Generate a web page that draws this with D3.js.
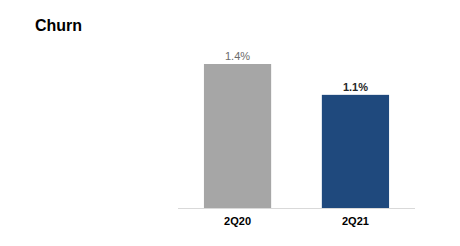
<!DOCTYPE html>
<html>
<head>
<meta charset="utf-8">
<script src="https://cdn.jsdelivr.net/npm/d3@7"></script>
<style>
  body { margin: 0; background: #fff; }
  svg { display: block; font-family: "Liberation Sans", Arial, sans-serif; }
</style>
</head>
<body>
<svg id="chart" width="460" height="246"></svg>
<script>
const periods = ["2Q20", "2Q21"];
const churn = [1.4, 1.1];
const barColors = ["#a6a6a6", "#1f497d"];
const labelColors = ["#6b6b6b", "#262626"];
const labelWeights = ["normal", "bold"];

const svg = d3.select("#chart");

svg.append("text")
  .attr("x", 35)
  .attr("y", 31)
  .style("font-size", "16px")
  .style("font-weight", "bold")
  .attr("fill", "#000")
  .text("Churn");

const x = d3.scaleBand()
  .domain(periods)
  .range([178, 415])
  .paddingInner(0.43)
  .paddingOuter(0.22);

const y = d3.scaleLinear()
  .domain([0, 1.4])
  .range([208, 64]);

// baseline
svg.append("line")
  .attr("x1", 178).attr("x2", 415)
  .attr("y1", y(0) + 0.5).attr("y2", y(0) + 0.5)
  .attr("stroke", "#d9d9d9")
  .attr("stroke-width", 1);

svg.selectAll("rect.bar")
  .data(churn)
  .enter()
  .append("rect")
  .attr("class", "bar")
  .attr("x", (d, i) => x(periods[i]))
  .attr("y", d => y(d))
  .attr("width", x.bandwidth())
  .attr("height", d => y(0) - y(d))
  .attr("fill", (d, i) => barColors[i]);

svg.selectAll("text.val")
  .data(churn)
  .enter()
  .append("text")
  .attr("class", "val")
  .attr("x", (d, i) => x(periods[i]) + x.bandwidth() / 2)
  .attr("y", d => y(d) - 4)
  .attr("text-anchor", "middle")
  .style("font-size", "11px")
  .style("font-weight", (d, i) => labelWeights[i])
  .attr("fill", (d, i) => labelColors[i])
  .text(d => d.toFixed(1) + "%");

const axis = svg.append("g")
  .attr("transform", `translate(0,${y(0)})`)
  .call(d3.axisBottom(x).tickSize(0).tickPadding(9));
axis.select(".domain").remove();
axis.selectAll("text")
  .style("font-size", "11px")
  .style("font-weight", "bold")
  .style("font-family", "'Liberation Sans', Arial, sans-serif")
  .attr("fill", "#000");
</script>
</body>
</html>
